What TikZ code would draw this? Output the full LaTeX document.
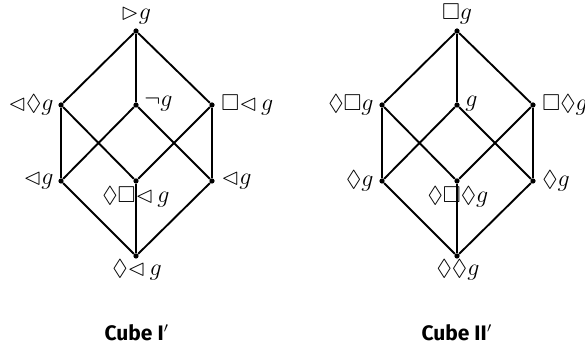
\documentclass[tikz,border=0pt]{standalone}
\usepackage{amssymb}
\usepackage{fontspec}
\newfontfamily\capfont{Fira Sans}
\begin{document}
\begin{tikzpicture}[x=0.5pt,y=-0.5pt,
  dot/.style={circle,fill=black,inner sep=0pt,minimum size=2.6pt},
  edge/.style={line width=0.95pt},
  lbl/.style={inner sep=0pt,font=\fontsize{11.5}{13}\selectfont},
  captxt/.style={inner sep=0pt,font=\capfont\bfseries\fontsize{10.5}{12}\selectfont}]
\useasboundingbox (0,0) rectangle (585,346);
% ---- Cube I'
\foreach \n/\x/\y in {aT/136/31, aC/136/105, aL/61/105, aR/212/105, aLL/61/181, aLC/136/181, aLR/212/181, aB/136/256}
  \node[dot] (\n) at (\x,\y) {};
\draw[edge] (aT)--(aL) (aT)--(aC) (aT)--(aR)
  (aL)--(aLL) (aL)--(aLC) (aC)--(aLL) (aC)--(aLR) (aR)--(aLC) (aR)--(aLR)
  (aLL)--(aB) (aLC)--(aB) (aLR)--(aB);
\node[lbl,anchor=base] (laT) at (136,20) {$\rhd g$};
\node[lbl,anchor=east] (laL) at (54,105) {$\lhd\Diamond g$};
\node[lbl,anchor=west] (laC) at (144,104) {$\neg g$};
\node[lbl,anchor=west] (laR) at (221,105) {$\Box\mathord{\lhd}\,g$};
\node[lbl,anchor=east] (laLL) at (54,181) {$\lhd g$};
\node[lbl,anchor=west] (laLR) at (221,181) {$\lhd g$};
\node[lbl] (laLC) at (136,197) {$\Diamond\Box\mathord{\lhd}\,g$};
\node[lbl] (laB) at (137,270) {$\Diamond\mathord{\lhd}\,g$};
\node[captxt] (capA) at (137,333) {Cube I$'$};
% ---- Cube II'
\foreach \n/\x/\y in {bT/457/31, bC/457/105, bL/382/105, bR/533/105, bLL/382/181, bLC/457/181, bLR/533/181, bB/457/256}
  \node[dot] (\n) at (\x,\y) {};
\draw[edge] (bT)--(bL) (bT)--(bC) (bT)--(bR)
  (bL)--(bLL) (bL)--(bLC) (bC)--(bLL) (bC)--(bLR) (bR)--(bLC) (bR)--(bLR)
  (bLL)--(bB) (bLC)--(bB) (bLR)--(bB);
\node[lbl,anchor=base] (lbT) at (457,20) {$\Box g$};
\node[lbl,anchor=east] (lbL) at (374,105) {$\Diamond\Box g$};
\node[lbl,anchor=west] (lbC) at (465,104) {$g$};
\node[lbl,anchor=west] (lbR) at (542,105) {$\Box\Diamond g$};
\node[lbl,anchor=east] (lbLL) at (374,181) {$\Diamond g$};
\node[lbl,anchor=west] (lbLR) at (542,181) {$\Diamond g$};
\node[lbl] (lbLC) at (458,197) {$\Diamond\Box\Diamond g$};
\node[lbl] (lbB) at (458,270) {$\Diamond\Diamond g$};
\node[captxt] (capB) at (457,333) {Cube II$'$};
\end{tikzpicture}
\end{document}
